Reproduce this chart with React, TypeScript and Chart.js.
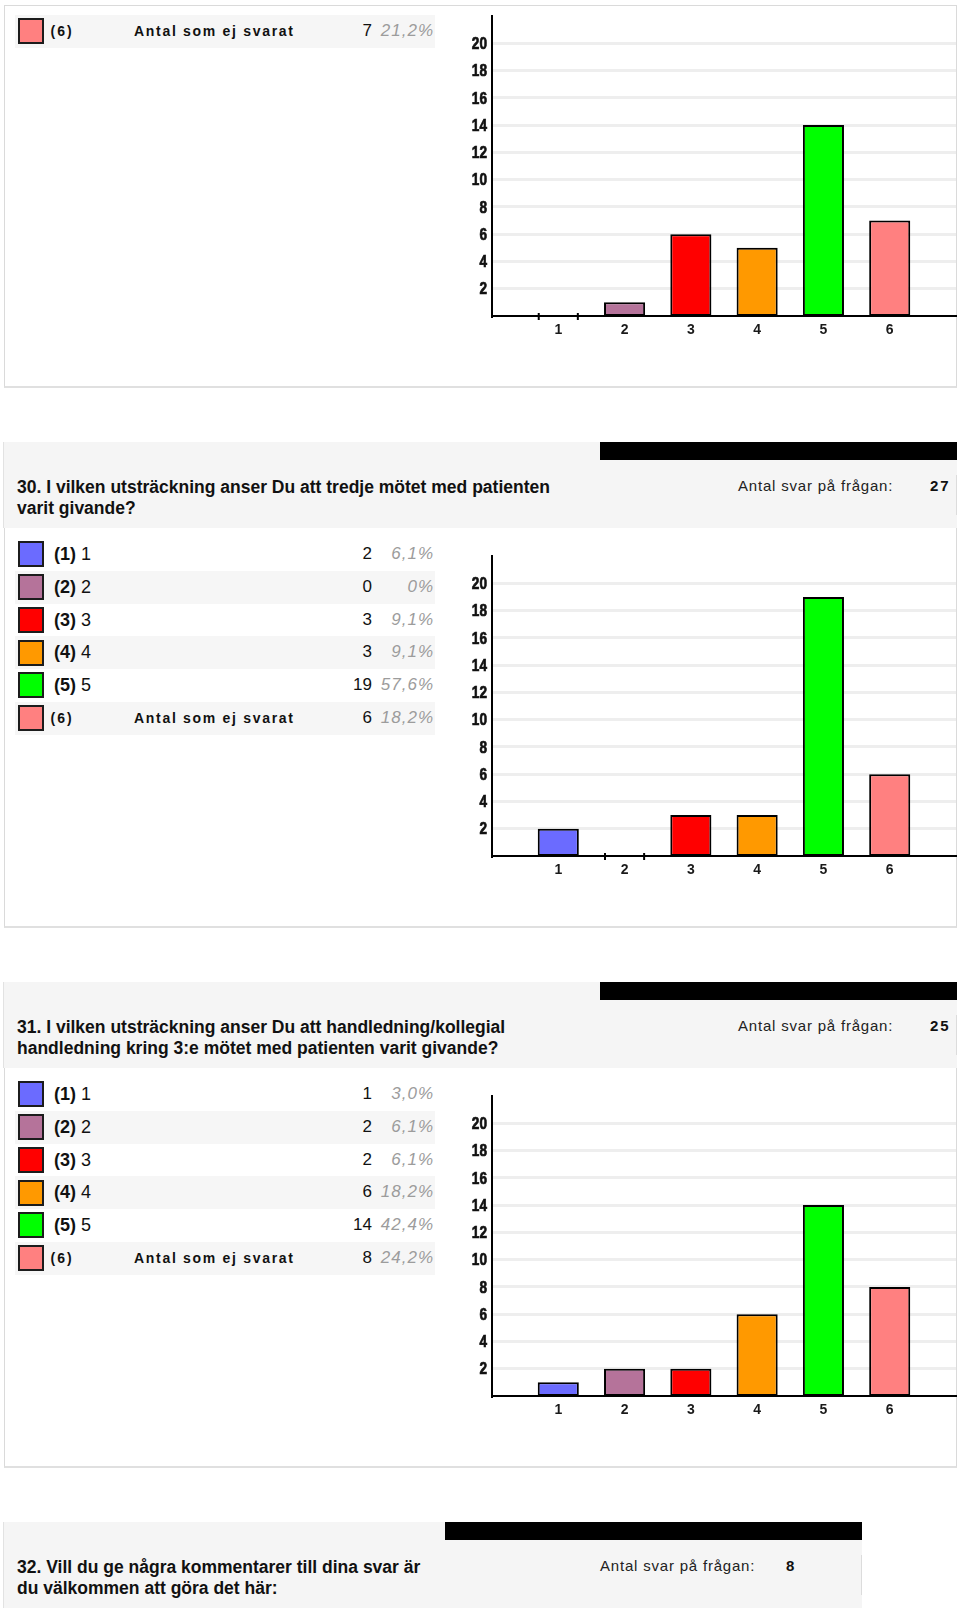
import React, { useEffect, useRef } from 'react';
import { Chart, registerables } from 'chart.js';

Chart.register(...registerables);

// ---------- data ----------
const categories = ['1', '2', '3', '4', '5', '6'];
const optionCodes = ['(1)', '(2)', '(3)', '(4)', '(5)', '(6)'];
const optionNames = ['1', '2', '3', '4', '5', 'Antal som ej svarat'];
const barColors = ['#6b6bff', '#b5739a', '#ff0000', '#ff9900', '#00ff00', '#ff8080'];

const yMax = 22;
const yStep = 2;

// Question 29 (continued from previous page): only the last legend row is visible
const q29Counts = [0, 1, 6, 5, 14, 7];
const q29LastRowPercent = '21,2%';

const q30Title = ['30. I vilken utsträckning anser Du att tredje mötet med patienten', 'varit givande?'];
const q30Answers = '27';
const q30Counts = [2, 0, 3, 3, 19, 6];
const q30Percents = ['6,1%', '0%', '9,1%', '9,1%', '57,6%', '18,2%'];

const q31Title = ['31. I vilken utsträckning anser Du att handledning/kollegial', 'handledning kring 3:e mötet med patienten varit givande?'];
const q31Answers = '25';
const q31Counts = [1, 2, 2, 6, 14, 8];
const q31Percents = ['3,0%', '6,1%', '6,1%', '18,2%', '42,4%', '24,2%'];

const q32Title = ['32. Vill du ge några kommentarer till dina svar är', 'du välkommen att göra det här:'];
const q32Answers = '8';

const answersLabel = 'Antal svar på frågan:';

// ---------- chart ----------
const CANVAS_W = 518;
const CANVAS_H = 380;
const SANS = "'Liberation Sans', Arial, sans-serif";

const zeroMarks = {
  id: 'zeroMarks',
  afterDatasetsDraw(chart: any) {
    const meta = chart.getDatasetMeta(0);
    const data = chart.data.datasets[0].data as any[];
    const ctx = chart.ctx;
    meta.data.forEach((bar: any, i: number) => {
      if (data[i].y !== 0) return;
      const { x, width, base } = bar.getProps(['x', 'width', 'base'], true);
      ctx.save();
      ctx.strokeStyle = '#000';
      ctx.lineWidth = 2;
      [x - width / 2 + 1, x + width / 2 - 1].forEach((px: number) => {
        ctx.beginPath();
        ctx.moveTo(px, base - 3);
        ctx.lineTo(px, base + 4);
        ctx.stroke();
      });
      ctx.restore();
    });
  },
};

// narrow bold y tick labels (horizontally condensed), positioned from the y scale
const narrowYLabels = {
  id: 'narrowYLabels',
  afterDraw(chart: any) {
    const s = chart.scales.y;
    const ctx = chart.ctx;
    ctx.save();
    ctx.font = `bold 17px ${SANS}`;
    ctx.fillStyle = '#111';
    ctx.strokeStyle = '#111';
    ctx.lineWidth = 0.7;
    ctx.textAlign = 'right';
    ctx.textBaseline = 'middle';
    s.ticks.forEach((t: any) => {
      const y = s.getPixelForValue(t.value);
      ctx.save();
      ctx.translate(s.right - 5, y + 1);
      ctx.scale(0.8, 1);
      ctx.fillText(String(t.value), 0, 0);
      ctx.strokeText(String(t.value), 0, 0);
      ctx.restore();
    });
    ctx.restore();
  },
};

function BarChart({ counts, top }: { counts: number[]; top: number }) {
  const ref = useRef<HTMLCanvasElement>(null);
  useEffect(() => {
    const chart = new Chart(ref.current as HTMLCanvasElement, {
      type: 'bar',
      data: {
        datasets: [
          {
            data: counts.map((v, i) => ({ x: i + 1, y: v })),
            backgroundColor: barColors,
            borderColor: '#000',
            borderWidth: 2,
            borderSkipped: false,
            barPercentage: 0.62,
            categoryPercentage: 1,
          } as any,
        ],
      },
      options: {
        animation: false,
        responsive: false,
        devicePixelRatio: 1,
        layout: { padding: { top: 16, right: 2, left: 0, bottom: 0 } },
        plugins: { legend: { display: false }, tooltip: { enabled: false } },
        scales: {
          x: {
            type: 'linear',
            min: 0,
            max: categories.length + 1,
            offset: false,
            grid: { display: false, drawTicks: false, offset: false },
            border: { display: true, color: '#000', width: 2 },
            ticks: {
              stepSize: 1,
              padding: 6,
              color: '#1a1a1a',
              font: { family: SANS, size: 14, weight: 'bold' },
              callback: (v: any) => categories[Number(v) - 1] ?? '',
            },
            afterBuildTicks: (s: any) => {
              s.ticks = s.ticks.filter((t: any) => t.value >= 1 && t.value <= categories.length);
            },
            afterFit: (s: any) => {
              s.height = CANVAS_H - 316;
            },
          },
          y: {
            min: 0,
            max: yMax,
            grid: { color: '#eeeeee', lineWidth: 3, drawTicks: false },
            border: { display: true, color: '#000', width: 2 },
            ticks: { stepSize: yStep, display: false },
            afterBuildTicks: (s: any) => {
              s.ticks = s.ticks.filter((t: any) => t.value > 0 && t.value < yMax);
            },
            afterFit: (s: any) => {
              s.width = 52;
            },
          },
        },
      } as any,
      plugins: [zeroMarks, narrowYLabels],
    });
    return () => chart.destroy();
  }, []);
  return (
    <canvas
      ref={ref}
      width={CANVAS_W}
      height={CANVAS_H}
      style={{ position: 'absolute', left: 440, top, width: CANVAS_W, height: CANVAS_H }}
    />
  );
}

// ---------- page pieces ----------
const ROW_H = 32.75;

function LegendRow({ top, idx, count, percent, shaded }: { top: number; idx: number; count: number; percent: string; shaded: boolean }) {
  const last = idx === 5;
  return (
    <div
      style={{
        position: 'absolute',
        left: 15,
        top,
        width: 420,
        height: ROW_H,
        background: shaded ? '#f6f6f6' : 'transparent',
      }}
    >
      <div
        style={{
          position: 'absolute',
          left: 3,
          top: (ROW_H - 26) / 2,
          width: 26,
          height: 26,
          boxSizing: 'border-box',
          border: '2px solid #1c1c1c',
          background: barColors[idx],
        }}
      />
      {last ? (
        <>
          <div style={{ position: 'absolute', left: 35.5, top: 0, height: ROW_H, lineHeight: ROW_H + 'px', fontSize: 14, fontWeight: 'bold', letterSpacing: 2, color: '#111' }}>
            {optionCodes[idx]}
          </div>
          <div style={{ position: 'absolute', left: 119, top: 0, height: ROW_H, lineHeight: ROW_H + 'px', fontSize: 14, fontWeight: 'bold', letterSpacing: 1.7, color: '#111' }}>
            {optionNames[idx]}
          </div>
        </>
      ) : (
        <div style={{ position: 'absolute', left: 39, top: 0, height: ROW_H, lineHeight: ROW_H + 'px', fontSize: 18, color: '#111', whiteSpace: 'nowrap' }}>
          <span style={{ fontWeight: 'bold' }}>{optionCodes[idx]}</span> {optionNames[idx]}
        </div>
      )}
      <div style={{ position: 'absolute', right: 420 - 357, top: 0, height: ROW_H, lineHeight: ROW_H + 'px', fontSize: 17, color: '#111', textAlign: 'right' }}>
        {count}
      </div>
      <div style={{ position: 'absolute', right: 420 - 419, top: 0, height: ROW_H, lineHeight: ROW_H + 'px', fontSize: 17, color: '#9c9c9c', fontStyle: 'italic', letterSpacing: 1, textAlign: 'right' }}>
        {percent}
      </div>
    </div>
  );
}

function Header({ top, title, answers, width, barLeft, answersLeft, countLeft }: { top: number; title: string[]; answers: string; width: number; barLeft: number; answersLeft: number; countLeft: number }) {
  return (
    <>
      <div style={{ position: 'absolute', left: 3, top, width, height: 86, background: '#f5f5f5', borderLeft: '1px solid #e2e2e2', boxSizing: 'border-box' }} />
      <div style={{ position: 'absolute', left: barLeft, top, width: 3 + width - barLeft, height: 18, background: '#000' }} />
      <div style={{ position: 'absolute', left: 2 + width, top: top + 33, width: 1, height: 40, background: '#dcdcdc' }} />
      <div style={{ position: 'absolute', left: 17, top: top + 35, fontSize: 17.5, lineHeight: '21px', fontWeight: 'bold', color: '#111', whiteSpace: 'nowrap' }}>
        {title.map((l, i) => (
          <div key={i}>{l}</div>
        ))}
      </div>
      <div style={{ position: 'absolute', left: answersLeft, top: top + 36, fontSize: 15, lineHeight: '16px', letterSpacing: 0.8, color: '#222', whiteSpace: 'nowrap' }}>
        {answersLabel}
      </div>
      <div style={{ position: 'absolute', left: countLeft, top: top + 36, fontSize: 15, lineHeight: '16px', letterSpacing: 2, fontWeight: 'bold', color: '#111', whiteSpace: 'nowrap' }}>
        {answers}
      </div>
    </>
  );
}

function ResultBox({ top, height }: { top: number; height: number }) {
  return (
    <div
      style={{
        position: 'absolute',
        left: 4,
        top,
        width: 953,
        height,
        boxSizing: 'border-box',
        borderLeft: '1px solid #dadada',
        borderRight: '1px solid #dadada',
        borderBottom: '2px solid #e0e0e0',
      }}
    />
  );
}

function QuestionBlock({ offset, title, answers, counts, percents }: { offset: number; title: string[]; answers: string; counts: number[]; percents: string[] }) {
  return (
    <>
      <Header top={442 + offset} title={title} answers={answers} width={954} barLeft={600} answersLeft={738} countLeft={930} />
      <ResultBox top={528 + offset} height={400} />
      {counts.map((c, i) => (
        <LegendRow key={i} top={538 + offset + i * ROW_H} idx={i} count={c} percent={percents[i]} shaded={i % 2 === 1} />
      ))}
      <BarChart counts={counts} top={540 + offset} />
    </>
  );
}

export default function App() {
  return (
    <div
      style={{
        position: 'absolute',
        left: 0,
        top: 0,
        width: 960,
        height: 1614,
        overflow: 'hidden',
        background: '#fff',
        fontFamily: SANS,
      }}
    >
      {/* Question 29 tail */}
      <div
        style={{
          position: 'absolute',
          left: 4,
          top: 5,
          width: 953,
          height: 383,
          boxSizing: 'border-box',
          border: '1px solid #dadada',
          borderBottom: '2px solid #e0e0e0',
        }}
      />
      <LegendRow top={15} idx={5} count={q29Counts[5]} percent={q29LastRowPercent} shaded={true} />
      <BarChart counts={q29Counts} top={0} />

      <QuestionBlock offset={0} title={q30Title} answers={q30Answers} counts={q30Counts} percents={q30Percents} />
      <QuestionBlock offset={540} title={q31Title} answers={q31Answers} counts={q31Counts} percents={q31Percents} />

      <Header top={1522} title={q32Title} answers={q32Answers} width={859} barLeft={445} answersLeft={600} countLeft={786} />
    </div>
  );
}
